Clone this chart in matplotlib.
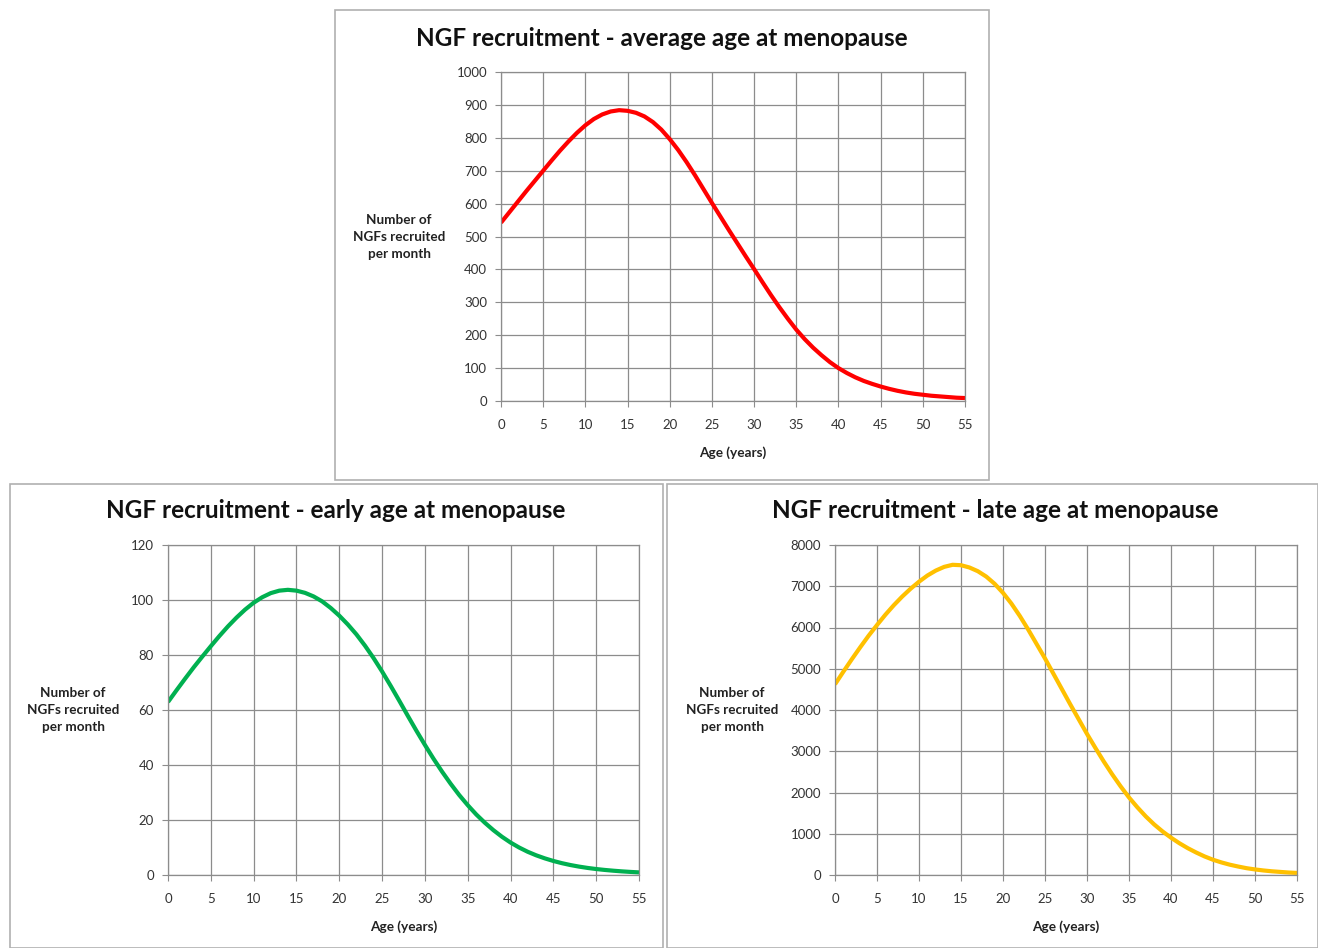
import numpy as np
import matplotlib
matplotlib.use("Agg")
import matplotlib.pyplot as plt
from matplotlib.patches import Rectangle

plt.rcParams['font.family'] = ['Lato', 'DejaVu Sans']

# values, one per year of age
age = list(range(0, 56))
avg_ngf = [542, 574, 606, 638, 669, 700, 731, 761, 789, 815,
           838, 857, 871, 880, 884, 882, 876, 865, 848, 825,
           796, 763, 726, 686, 644, 602, 561, 520, 480, 440,
           401, 361, 322, 285, 250, 217, 188, 162, 139, 118,
           100, 85, 72, 61, 52, 44, 37, 31, 26, 22,
           19, 16, 14, 12, 10, 9]
early_ngf = [62.9, 67.2, 71.4, 75.5, 79.4, 83.2, 86.9, 90.4, 93.6, 96.5,
             99.0, 101.0, 102.5, 103.4, 103.7, 103.4, 102.6, 101.3, 99.5, 97.1,
             94.3, 91.1, 87.5, 83.4, 78.9, 74.0, 68.8, 63.4, 57.9, 52.5,
             47.3, 42.3, 37.6, 33.2, 29.1, 25.4, 22.0, 19.0, 16.3, 13.9,
             11.8, 10.0, 8.45, 7.15, 6.05, 5.1, 4.3, 3.62, 3.05, 2.57,
             2.17, 1.84, 1.56, 1.32, 1.12, 0.95]
late_ngf = [4623, 4930, 5230, 5520, 5800, 6060, 6310, 6540, 6750, 6940,
            7110, 7260, 7380, 7470, 7520, 7510, 7455, 7365, 7235, 7060,
            6840, 6580, 6280, 5950, 5600, 5250, 4880, 4510, 4140, 3780,
            3420, 3080, 2750, 2440, 2150, 1880, 1640, 1420, 1225, 1055,
            905, 770, 650, 545, 450, 370, 305, 250, 205, 165,
            135, 110, 90, 75, 60, 50]

x_ticks = np.arange(0, 56, 5)

W, H = 1318, 948
fig = plt.figure(figsize=(W / 100, H / 100), dpi=100)


def px(x, y):
    """pixel (from top-left) to figure fraction"""
    return x / W, 1 - y / H


# panel frames
########################################################
for x0, y0, x1, y1 in [(335, 10, 989, 480), (10, 484, 663, 948), (667, 484, 1318, 948)]:
    fig.patches.append(Rectangle((x0 / W, 1 - y1 / H), (x1 - x0) / W, (y1 - y0) / H,
                                 transform=fig.transFigure, fill=False,
                                 edgecolor='#b0b0b0', linewidth=1.2))


def panel(box, y_vals, ymax, ystep, color, title, title_xy, ylab_xy, xlab_xy):
    left, top, right, bottom = box
    ax = fig.add_axes([left / W, 1 - bottom / H, (right - left) / W, (bottom - top) / H])
    ax.plot(age, y_vals, color=color, linewidth=3.0, solid_capstyle='butt', solid_joinstyle='round')
    ax.set_xlim(0, 55)
    ax.set_ylim(0, ymax)
    ax.set_xticks(x_ticks)
    ax.set_yticks(np.arange(0, ymax + ystep / 2, ystep))
    ax.grid(True, color='#8c8c8c', linewidth=0.9)
    ax.set_axisbelow(True)
    for s in ax.spines.values():
        s.set_color('#8c8c8c')
        s.set_linewidth(0.9)
    ax.tick_params(axis='x', length=4, color='#8c8c8c', pad=9, labelsize=9.5, labelcolor='#333333')
    ax.tick_params(axis='y', length=4, color='#8c8c8c', pad=6, labelsize=9.5, labelcolor='#333333')

    fig.text(*px(*title_xy), title, ha='center', va='center', fontsize=17.5, fontweight='bold',
             color='#111111')
    fig.text(*px(*ylab_xy), "Number of\nNGFs recruited\nper month", ha='center', va='center',
             fontsize=9.7, fontweight='bold', color='#222222', linespacing=1.5)
    fig.text(*px(*xlab_xy), "Age (years)", ha='center', va='center', fontsize=9.8,
             fontweight='bold', color='#222222')
    return ax


panel((501, 72, 965, 401), avg_ngf, 1000, 100, '#ff0000',
      "NGF recruitment - average age at menopause", (662, 38), (399, 237), (733, 453))
panel((168, 545, 639, 875), early_ngf, 120, 20, '#00b050',
      "NGF recruitment - early age at menopause", (336, 511), (73, 710), (404, 927))
panel((835, 545, 1297, 875), late_ngf, 8000, 1000, '#ffc000',
      "NGF recruitment - late age at menopause", (995, 511), (732, 710), (1066, 927))

fig.savefig("out.png", dpi=100)
